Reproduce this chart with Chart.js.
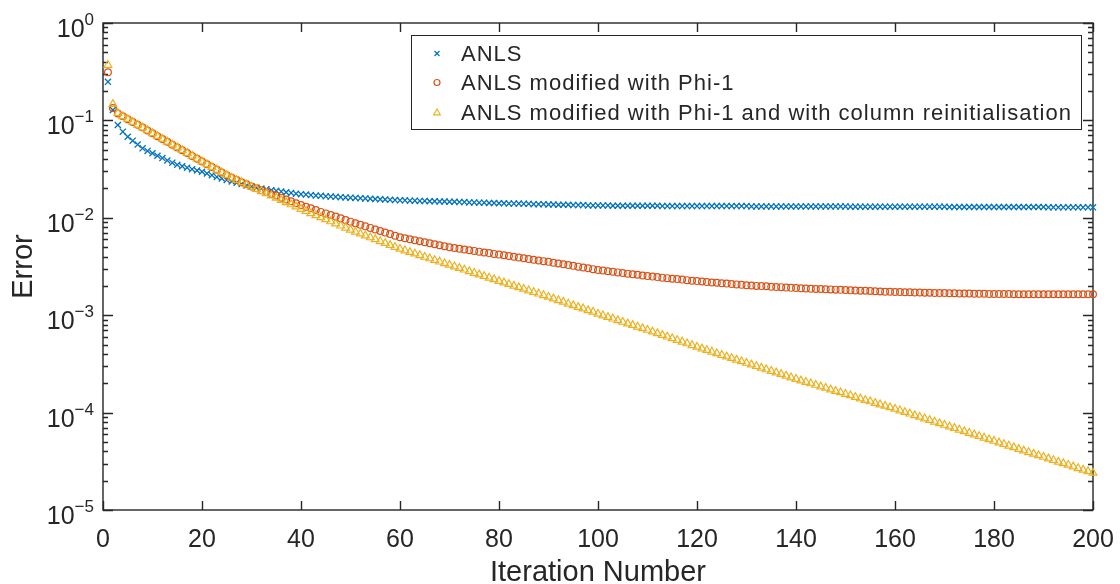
<!DOCTYPE html>
<html>
<head>
<meta charset="utf-8">
<title>Error vs iteration</title>
<script src="https://cdn.jsdelivr.net/npm/chart.js@4"></script>
<style>
  html, body { margin: 0; padding: 0; background: #fff; }
  #wrap { width: 1120px; height: 584px; position: relative; }
</style>
</head>
<body>
<div id="wrap"><canvas id="errChart"></canvas></div>
<script>
// ======== data ========
const seriesNames = [
    'ANLS',
    'ANLS modified with Phi-1',
    'ANLS modified with Phi-1 and with column reinitialisation'
];
const xTicks = [0, 20, 40, 60, 80, 100, 120, 140, 160, 180, 200];
const yDecades = [-5, -4, -3, -2, -1, 0];

// ANLS
const anls = [
    0.249, 0.128, 0.0897, 0.0766, 0.0680, 0.0619, 0.0565, 0.0517, 0.0486, 0.0460,
    0.0434, 0.0410, 0.0388, 0.0368, 0.0350, 0.0338, 0.0327, 0.0316, 0.0306, 0.0297,
    0.0285, 0.0274, 0.0263, 0.0253, 0.0244, 0.0236, 0.0229, 0.0222, 0.0215, 0.0209,
    0.0204, 0.0200, 0.0196, 0.0192, 0.0189, 0.0186, 0.0183, 0.0180, 0.0177, 0.0175,
    0.0173, 0.0171, 0.0169, 0.0168, 0.0166, 0.0165, 0.0164, 0.0163, 0.0162, 0.0161,
    0.0160, 0.0159, 0.0158, 0.0157, 0.0156, 0.0155, 0.0154, 0.0153, 0.0152, 0.0151,
    0.0151, 0.0150, 0.0150, 0.0149, 0.0149, 0.0148, 0.0148, 0.0147, 0.0147, 0.0146,
    0.0146, 0.0145, 0.0145, 0.0144, 0.0144, 0.0143, 0.0143, 0.0142, 0.0142, 0.0141,
    0.0141, 0.0140, 0.0140, 0.0140, 0.0139, 0.0139, 0.0138, 0.0138, 0.0138, 0.0137,
    0.0137, 0.0136, 0.0136, 0.0136, 0.0135, 0.0135, 0.0135, 0.0134, 0.0134, 0.0134,
    0.0134, 0.0134, 0.0133, 0.0133, 0.0133, 0.0133, 0.0133, 0.0133, 0.0133, 0.0133,
    0.0133, 0.0133, 0.0132, 0.0132, 0.0132, 0.0132, 0.0132, 0.0132, 0.0132, 0.0132,
    0.0132, 0.0132, 0.0132, 0.0132, 0.0132, 0.0132, 0.0132, 0.0132, 0.0132, 0.0132,
    0.0131, 0.0131, 0.0131, 0.0131, 0.0131, 0.0131, 0.0131, 0.0131, 0.0131, 0.0131,
    0.0131, 0.0131, 0.0131, 0.0131, 0.0131, 0.0131, 0.0131, 0.0131, 0.0131, 0.0131,
    0.0130, 0.0130, 0.0130, 0.0130, 0.0130, 0.0130, 0.0130, 0.0130, 0.0130, 0.0130,
    0.0130, 0.0130, 0.0130, 0.0130, 0.0130, 0.0130, 0.0130, 0.0130, 0.0130, 0.0130,
    0.0129, 0.0129, 0.0129, 0.0129, 0.0129, 0.0129, 0.0129, 0.0129, 0.0129, 0.0129,
    0.0129, 0.0129, 0.0129, 0.0129, 0.0129, 0.0129, 0.0129, 0.0129, 0.0129, 0.0129,
    0.0128, 0.0128, 0.0128, 0.0128, 0.0128, 0.0128, 0.0128, 0.0128, 0.0128, 0.0128
];

// ANLS modified with Phi-1
const anlsPhi = [
    0.312, 0.134, 0.118, 0.110, 0.103, 0.0963, 0.0901, 0.0843, 0.0788, 0.0737,
    0.0689, 0.0645, 0.0603, 0.0564, 0.0528, 0.0494, 0.0462, 0.0432, 0.0404, 0.0378,
    0.0354, 0.0332, 0.0311, 0.0292, 0.0274, 0.0257, 0.0244, 0.0232, 0.0221, 0.0210,
    0.0201, 0.0192, 0.0184, 0.0176, 0.0169, 0.0161, 0.0154, 0.0148, 0.0141, 0.0135,
    0.0130, 0.0125, 0.0120, 0.0115, 0.0111, 0.0107, 0.0103, 0.00987, 0.00949, 0.00913,
    0.00880, 0.00848, 0.00817, 0.00788, 0.00759, 0.00732, 0.00705, 0.00680, 0.00655, 0.00631,
    0.00616, 0.00602, 0.00588, 0.00574, 0.00561, 0.00548, 0.00535, 0.00522, 0.00510, 0.00498,
    0.00489, 0.00481, 0.00473, 0.00465, 0.00457, 0.00449, 0.00441, 0.00434, 0.00426, 0.00419,
    0.00412, 0.00405, 0.00398, 0.00391, 0.00384, 0.00378, 0.00371, 0.00365, 0.00359, 0.00353,
    0.00346, 0.00340, 0.00333, 0.00327, 0.00321, 0.00315, 0.00309, 0.00303, 0.00297, 0.00291,
    0.00287, 0.00283, 0.00279, 0.00275, 0.00271, 0.00267, 0.00263, 0.00260, 0.00256, 0.00252,
    0.00249, 0.00246, 0.00243, 0.00240, 0.00237, 0.00235, 0.00232, 0.00229, 0.00226, 0.00224,
    0.00222, 0.00219, 0.00217, 0.00215, 0.00213, 0.00211, 0.00209, 0.00207, 0.00205, 0.00203,
    0.00202, 0.00200, 0.00199, 0.00198, 0.00196, 0.00195, 0.00194, 0.00192, 0.00191, 0.00190,
    0.00189, 0.00188, 0.00187, 0.00186, 0.00186, 0.00185, 0.00184, 0.00183, 0.00182, 0.00181,
    0.00180, 0.00179, 0.00178, 0.00178, 0.00177, 0.00176, 0.00175, 0.00174, 0.00174, 0.00173,
    0.00173, 0.00172, 0.00172, 0.00171, 0.00171, 0.00170, 0.00170, 0.00169, 0.00169, 0.00169,
    0.00168, 0.00168, 0.00167, 0.00167, 0.00167, 0.00166, 0.00166, 0.00166, 0.00165, 0.00165,
    0.00165, 0.00165, 0.00165, 0.00164, 0.00164, 0.00164, 0.00164, 0.00164, 0.00164, 0.00164,
    0.00164, 0.00164, 0.00164, 0.00164, 0.00164, 0.00164, 0.00164, 0.00164, 0.00164, 0.00164
];

// ANLS modified with Phi-1 and with column reinitialisation
const anlsPhiReinit = [
    0.370, 0.147, 0.119, 0.110, 0.103, 0.0963, 0.0901, 0.0843, 0.0788, 0.0737,
    0.0689, 0.0645, 0.0603, 0.0564, 0.0528, 0.0494, 0.0462, 0.0432, 0.0404, 0.0378,
    0.0354, 0.0332, 0.0311, 0.0292, 0.0274, 0.0257, 0.0244, 0.0231, 0.0219, 0.0208,
    0.0197, 0.0187, 0.0178, 0.0169, 0.0160, 0.0152, 0.0144, 0.0137, 0.0130, 0.0123,
    0.0117, 0.0111, 0.0106, 0.0101, 0.00962, 0.00916, 0.00871, 0.00829, 0.00789, 0.00751,
    0.00718, 0.00687, 0.00656, 0.00628, 0.00600, 0.00574, 0.00549, 0.00524, 0.00501, 0.00479,
    0.00461, 0.00444, 0.00428, 0.00412, 0.00396, 0.00382, 0.00367, 0.00354, 0.00340, 0.00328,
    0.00316, 0.00304, 0.00293, 0.00282, 0.00271, 0.00261, 0.00251, 0.00242, 0.00233, 0.00224,
    0.00216, 0.00208, 0.00200, 0.00193, 0.00186, 0.00179, 0.00172, 0.00166, 0.00160, 0.00154,
    0.00148, 0.00142, 0.00137, 0.00131, 0.00126, 0.00121, 0.00117, 0.00112, 0.00108, 0.00103,
    9.92e-4, 9.55e-4, 9.19e-4, 8.85e-4, 8.52e-4, 8.20e-4, 7.90e-4, 7.60e-4, 7.32e-4, 7.05e-4,
    6.77e-4, 6.51e-4, 6.25e-4, 6.01e-4, 5.77e-4, 5.54e-4, 5.33e-4, 5.12e-4, 4.91e-4, 4.72e-4,
    4.54e-4, 4.37e-4, 4.21e-4, 4.05e-4, 3.90e-4, 3.76e-4, 3.62e-4, 3.48e-4, 3.35e-4, 3.23e-4,
    3.11e-4, 2.99e-4, 2.88e-4, 2.77e-4, 2.67e-4, 2.57e-4, 2.48e-4, 2.38e-4, 2.29e-4, 2.21e-4,
    2.13e-4, 2.06e-4, 1.99e-4, 1.92e-4, 1.85e-4, 1.79e-4, 1.72e-4, 1.66e-4, 1.61e-4, 1.55e-4,
    1.50e-4, 1.44e-4, 1.39e-4, 1.34e-4, 1.30e-4, 1.25e-4, 1.21e-4, 1.17e-4, 1.13e-4, 1.09e-4,
    1.05e-4, 1.01e-4, 9.73e-5, 9.37e-5, 9.02e-5, 8.69e-5, 8.36e-5, 8.05e-5, 7.75e-5, 7.46e-5,
    7.18e-5, 6.92e-5, 6.66e-5, 6.41e-5, 6.17e-5, 5.94e-5, 5.72e-5, 5.51e-5, 5.30e-5, 5.11e-5,
    4.92e-5, 4.73e-5, 4.56e-5, 4.39e-5, 4.22e-5, 4.07e-5, 3.91e-5, 3.77e-5, 3.63e-5, 3.50e-5,
    3.37e-5, 3.24e-5, 3.12e-5, 3.01e-5, 2.90e-5, 2.79e-5, 2.68e-5, 2.58e-5, 2.49e-5, 2.40e-5
];

// ======== styles ========
const colBlue = '#0072BD';
const colRed = '#D95319';
const colYellow = '#EDB120';
const axisColor = '#262626';
const fontFamily = '"Liberation Sans", Helvetica, Arial, sans-serif';

// iteration number = position in the list (1-based)
function toPoints(vals) {
    return vals.map((v, i) => ({ x: i + 1, y: v }));
}

// ======== MATLAB-like box, inward ticks, labels and legend ========
const matlabAxes = {
    id: 'matlabAxes',
    beforeDatasetsDraw(chart) {
        const { ctx, chartArea: a } = chart;
        const x = chart.scales.x;
        const y = chart.scales.y;
        ctx.save();
        ctx.strokeStyle = axisColor;
        ctx.lineWidth = 1.4;
        ctx.strokeRect(a.left, a.top, a.right - a.left, a.bottom - a.top);

        ctx.beginPath();
        xTicks.forEach(t => {
            const px = Math.round(x.getPixelForValue(t)) + 0.5;
            ctx.moveTo(px, a.bottom); ctx.lineTo(px, a.bottom - 9);
            ctx.moveTo(px, a.top); ctx.lineTo(px, a.top + 9);
        });
        yDecades.forEach(e => {
            const py = Math.round(y.getPixelForValue(Math.pow(10, e))) + 0.5;
            ctx.moveTo(a.left, py); ctx.lineTo(a.left + 10, py);
            ctx.moveTo(a.right, py); ctx.lineTo(a.right - 10, py);
            if (e < 0) {
                for (let m = 2; m <= 9; m++) {
                    const pm = Math.round(y.getPixelForValue(m * Math.pow(10, e))) + 0.5;
                    ctx.moveTo(a.left, pm); ctx.lineTo(a.left + 5, pm);
                    ctx.moveTo(a.right, pm); ctx.lineTo(a.right - 5, pm);
                }
            }
        });
        ctx.stroke();

        // tick labels
        ctx.fillStyle = axisColor;
        ctx.font = '25px ' + fontFamily;
        ctx.textAlign = 'center';
        ctx.textBaseline = 'alphabetic';
        xTicks.forEach(t => {
            ctx.fillText(String(t), x.getPixelForValue(t), a.bottom + 37);
        });

        yDecades.forEach(e => {
            const py = y.getPixelForValue(Math.pow(10, e));
            const sup = e < 0 ? '\u2212' + Math.abs(e) : String(e);
            ctx.font = '17px ' + fontFamily;
            const wSup = ctx.measureText(sup).width;
            ctx.font = '25px ' + fontFamily;
            const wBase = ctx.measureText('10').width;
            const right = a.left - 9;
            ctx.textAlign = 'left';
            ctx.fillText('10', right - wSup - wBase, py + 14);
            ctx.font = '17px ' + fontFamily;
            ctx.fillText(sup, right - wSup, py + 2);
        });

        // axis titles
        ctx.font = '29px ' + fontFamily;
        ctx.textAlign = 'center';
        ctx.fillText('Iteration Number', (a.left + a.right) / 2, 581);
        ctx.save();
        ctx.translate(32, (a.top + a.bottom) / 2);
        ctx.rotate(-Math.PI / 2);
        ctx.fillText('Error', 0, 0);
        ctx.restore();
        ctx.restore();
    },
    afterDatasetsDraw(chart) {
        const ctx = chart.ctx;
        const box = { left: 411.5, top: 35.5, right: 1081.5, bottom: 129.5 };
        ctx.save();
        ctx.fillStyle = '#ffffff';
        ctx.fillRect(box.left, box.top, box.right - box.left, box.bottom - box.top);
        ctx.strokeStyle = axisColor;
        ctx.lineWidth = 1;
        ctx.strokeRect(box.left, box.top, box.right - box.left, box.bottom - box.top);

        const rows = [53.5, 82.5, 112.5];
        const mx = 437;
        ctx.lineWidth = 1.2;
        // cross
        ctx.strokeStyle = colBlue;
        ctx.beginPath();
        ctx.moveTo(mx - 2.5, rows[0] - 2.5); ctx.lineTo(mx + 2.5, rows[0] + 2.5);
        ctx.moveTo(mx - 2.5, rows[0] + 2.5); ctx.lineTo(mx + 2.5, rows[0] - 2.5);
        ctx.stroke();
        // circle
        ctx.strokeStyle = colRed;
        ctx.beginPath();
        ctx.arc(mx, rows[1], 3, 0, Math.PI * 2);
        ctx.stroke();
        // triangle
        ctx.strokeStyle = colYellow;
        ctx.beginPath();
        ctx.moveTo(mx, rows[2] - 3.5);
        ctx.lineTo(mx + 3.3, rows[2] + 2.3);
        ctx.lineTo(mx - 3.3, rows[2] + 2.3);
        ctx.closePath();
        ctx.stroke();

        ctx.fillStyle = axisColor;
        ctx.font = '22px ' + fontFamily;
        ctx.letterSpacing = '1px';
        ctx.textAlign = 'left';
        ctx.textBaseline = 'alphabetic';
        seriesNames.forEach((name, i) => {
            ctx.fillText(name, 461, rows[i] + 7.5);
        });
        ctx.restore();
    }
};

document.addEventListener('DOMContentLoaded', function() {
    const ctx = document.getElementById('errChart');
    new Chart(ctx, {
        type: 'scatter',
        data: {
            datasets: [
                {
                    label: seriesNames[0],
                    data: toPoints(anls),
                    pointStyle: 'crossRot',
                    pointRadius: 4.3,
                    borderColor: colBlue,
                    backgroundColor: 'rgba(0,0,0,0)',
                    borderWidth: 1.3,
                    pointBorderWidth: 1.3,
                    order: 3,
                    clip: false
                },
                {
                    label: seriesNames[1],
                    data: toPoints(anlsPhi),
                    pointStyle: 'circle',
                    pointRadius: 3.4,
                    borderColor: colRed,
                    backgroundColor: 'rgba(0,0,0,0)',
                    borderWidth: 1.2,
                    pointBorderWidth: 1.2,
                    order: 2,
                    clip: false
                },
                {
                    label: seriesNames[2],
                    data: toPoints(anlsPhiReinit),
                    pointStyle: 'triangle',
                    pointRadius: 4.5,
                    borderColor: colYellow,
                    backgroundColor: 'rgba(0,0,0,0)',
                    borderWidth: 1.2,
                    pointBorderWidth: 1.2,
                    order: 1,
                    clip: false
                }
            ]
        },
        options: {
            responsive: true,
            maintainAspectRatio: false,
            animation: false,
            events: [],
            layout: {
                padding: { left: 103, right: 27, top: 23, bottom: 74 }
            },
            scales: {
                x: { type: 'linear', min: 0, max: 200, display: false },
                y: { type: 'logarithmic', min: 1e-5, max: 1, display: false }
            },
            plugins: {
                legend: { display: false },
                tooltip: { enabled: false }
            }
        },
        plugins: [matlabAxes]
    });
});
</script>
</body>
</html>
